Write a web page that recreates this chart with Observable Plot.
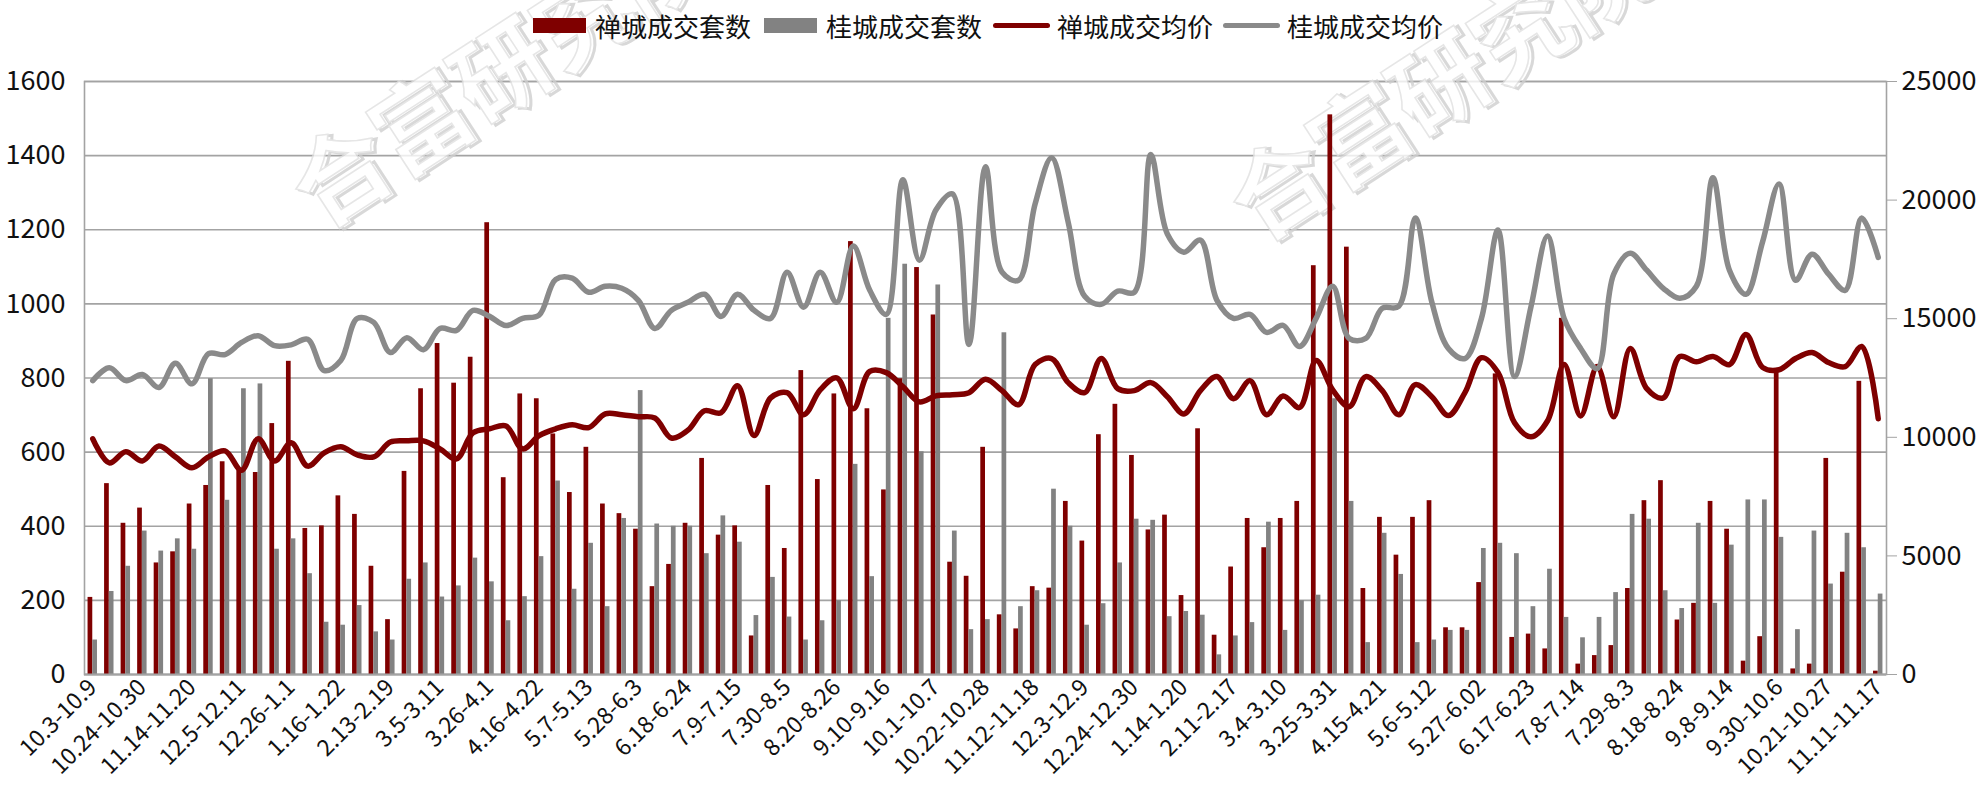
<!DOCTYPE html>
<html><head><meta charset="utf-8">
<script src="https://cdn.jsdelivr.net/npm/d3@7"></script>
<script src="https://cdn.jsdelivr.net/npm/@observablehq/plot@0.6"></script>
<style>
body{margin:0;background:#fff;font-family:"Noto Sans CJK SC","Noto Sans",sans-serif;}
#wrap{position:relative;width:1987px;height:808px;overflow:hidden;background:#fff}
#legend{position:relative;z-index:2;height:50px;width:1987px}
#chart{position:relative;z-index:1}
.sw{position:absolute}
.lt{position:absolute;top:9px;font-size:26px;line-height:34px;color:#111;white-space:nowrap}
</style></head><body>
<div id="wrap"><div id="legend"></div><div id="chart"></div></div>
<script>
const weeks = ["10.3-10.9","10.10-10.16","10.17-10.23","10.24-10.30","10.31-11.6","11.7-11.13","11.14-11.20","11.21-11.27","11.28-12.4","12.5-12.11","12.12-12.18","12.19-12.25","12.26-1.1","1.2-1.8","1.9-1.15","1.16-1.22","1.23-2.5","2.6-2.12","2.13-2.19","2.20-2.26","2.27-3.4","3.5-3.11","3.12-3.18","3.19-3.25","3.26-4.1","4.2-4.8","4.9-4.15","4.16-4.22","4.23-4.29","4.30-5.6","5.7-5.13","5.14-5.20","5.21-5.27","5.28-6.3","6.4-6.10","6.11-6.17","6.18-6.24","6.25-7.1","7.2-7.8","7.9-7.15","7.16-7.22","7.23-7.29","7.30-8.5","8.6-8.12","8.13-8.19","8.20-8.26","8.27-9.2","9.3-9.9","9.10-9.16","9.17-9.23","9.24-9.30","10.1-10.7","10.8-10.14","10.15-10.21","10.22-10.28","10.29-11.4","11.5-11.11","11.12-11.18","11.19-11.25","11.26-12.2","12.3-12.9","12.10-12.16","12.17-12.23","12.24-12.30","12.31-1.6","1.7-1.13","1.14-1.20","1.21-1.27","1.28-2.10","2.11-2.17","2.18-2.24","2.25-3.3","3.4-3.10","3.11-3.17","3.18-3.24","3.25-3.31","4.1-4.7","4.8-4.14","4.15-4.21","4.22-4.28","4.29-5.5","5.6-5.12","5.13-5.19","5.20-5.26","5.27-6.02","6.03-6.09","6.10-6.16","6.17-6.23","6.24-6.30","7.1-7.7","7.8-7.14","7.15-7.21","7.22-7.28","7.29-8.3","8.4-8.10","8.11-8.17","8.18-8.24","8.25-8.31","9.1-9.7","9.8-9.14","9.15-9.21","9.22-9.29","9.30-10.6","10.7-10.13","10.14-10.20","10.21-10.27","10.28-11.3","11.4-11.10","11.11-11.17"];
const tickWeeks = weeks.filter((d, i) => i % 3 === 0);

// 禅城成交套数
const chanchengSets = [208,515,408,449,301,331,460,510,574,555,545,677,845,394,401,482,432,292,148,548,771,893,786,856,1219,531,757,744,649,491,613,460,434,392,237,297,408,583,376,401,104,510,340,820,526,757,1168,717,498,798,1098,970,303,265,613,161,123,237,233,467,360,647,729,591,390,430,213,663,106,290,421,342,421,467,1103,1510,1153,232,424,322,424,469,126,126,248,811,100,109,69,961,28,51,78,232,469,523,147,192,467,392,36,102,820,15,28,583,276,791,9];
// 桂城成交套数
const guichengSets = [93,224,292,387,333,366,338,798,470,771,784,338,366,272,141,133,186,115,93,257,301,209,239,314,250,145,210,318,522,230,354,183,421,766,406,400,400,326,428,357,159,262,155,93,145,199,567,264,961,1107,601,1051,387,121,148,922,183,226,500,400,133,191,301,419,416,156,170,160,53,104,140,411,119,199,214,744,467,86,381,270,86,93,119,119,340,354,326,183,284,154,99,154,221,432,419,226,178,408,192,349,471,471,370,121,387,244,381,342,217];
// 禅城成交均价
const chanchengPrice = [9936,8920,9394,9005,9631,9174,8717,9174,9428,8615,9936,9005,9766,8785,9343,9597,9259,9174,9800,9851,9851,9512,9089,10189,10359,10477,9512,10071,10359,10528,10410,10985,10951,10866,10815,9969,10300,11120,11036,12170,10071,11662,11882,10951,12000,12508,11205,12779,12728,12136,11493,11747,11797,11882,12450,11967,11374,13067,13321,12305,11882,13321,12051,11967,12305,11713,10985,11967,12559,11628,12390,10951,11740,11256,13236,12000,11290,12559,11967,10951,12221,11713,10917,11882,13355,12728,10613,10020,10697,13067,10900,12982,10866,13744,12051,11662,13405,13185,13405,13067,14336,12948,12847,13321,13575,13152,12982,13829,10782];
// 桂城成交均价
const guichengPrice = [12390,12931,12390,12644,12102,13118,12254,13524,13490,13998,14285,13862,13896,14133,12813,13236,15013,14844,13575,14201,13693,14590,14506,15352,15098,14709,15013,15149,16655,16706,16114,16367,16283,15775,14590,15352,15690,16029,15098,16029,15352,15013,16960,15487,16960,15690,18060,16198,15183,20853,17468,19583,20260,13913,21411,16960,16621,19837,21784,19076,15944,15606,16164,16114,21919,18568,17806,18314,15775,15013,15183,14421,14717,13829,15013,16367,14167,14167,15437,15521,19245,15690,13744,13321,15013,18737,12559,15521,18483,15013,13744,12898,16875,17755,17044,16283,15860,16367,20937,17044,16029,18229,20684,16621,17721,16875,16198,19245,17586];

const seriesNames = ["禅城成交套数","桂城成交套数","禅城成交均价","桂城成交均价"];
const leftTicks = [0,200,400,600,800,1000,1200,1400,1600];
const rightTicks = [0,5000,10000,15000,20000,25000];
const watermarkText = "合富研究院";

const RED = "#7f0000", GREY = "#828282", GREYLINE = "#8a8a8a", AXIS = "#a3a3a3";
const leftMax = leftTicks[leftTicks.length - 1], rightMax = rightTicks[rightTicks.length - 1];
const k = leftMax / rightMax;

const rows = weeks.map((w, i) => ({week: w, cc: chanchengSets[i], gc: guichengSets[i], ccp: chanchengPrice[i], gcp: guichengPrice[i]}));

const W = 1987, H = 758, mL = 84, mR = 101, mT = 31, mB = 134;
const bw = (W - mL - mR) / weeks.length;
const barW = bw * 0.285;
const half = bw / 2;

const chart = Plot.plot({
  width: W, height: H,
  marginLeft: mL, marginRight: mR, marginTop: mT, marginBottom: mB,
  style: {fontFamily: '"Noto Sans CJK SC","Noto Sans",sans-serif', background: "transparent", color: "#111", overflow: "visible"},
  x: {type: "band", domain: weeks, padding: 0, axis: null},
  y: {domain: [0, leftMax], axis: null},
  marks: [
    Plot.gridY(leftTicks, {stroke: AXIS, strokeOpacity: 1, strokeWidth: 1.6}),
    Plot.frame({stroke: AXIS, strokeWidth: 1.6}),
    Plot.barY(rows, {x: "week", y: "cc", fill: RED, insetLeft: half - barW, insetRight: half}),
    Plot.barY(rows, {x: "week", y: "gc", fill: GREY, insetLeft: half, insetRight: half - barW}),
    Plot.line(rows, {x: "week", y: d => d.ccp * k, stroke: RED, strokeWidth: 5.5, curve: "catmull-rom"}),
    Plot.line(rows, {x: "week", y: d => d.gcp * k, stroke: GREYLINE, strokeWidth: 5.5, curve: "catmull-rom"}),
    Plot.ruleY([0], {stroke: AXIS, strokeWidth: 2}),
    Plot.axisX({ticks: tickWeeks, tickRotate: -45, tickSize: 0, tickPadding: 9, fontSize: 23, label: null, fill: "#111"}),
    Plot.axisY({anchor: "left", ticks: leftTicks, tickFormat: d => String(d), tickSize: 0, tickPadding: 19, fontSize: 27, label: null, fill: "#111"}),
    Plot.axisY({anchor: "right", ticks: rightTicks.map(v => v * k), tickFormat: v => String(Math.round(v / k)), tickSize: 10, tickPadding: 5, stroke: AXIS, fontSize: 27, label: null, fill: "#111"})
  ]
});
document.getElementById("chart").appendChild(chart);

// watermark, drawn under the data marks
const firstBar = chart.querySelector('g[aria-label="bar"]');
const svgNS = "http://www.w3.org/2000/svg";
[[320, 181], [1258, 194]].forEach(([x, y]) => {
  const g = document.createElementNS(svgNS, "g");
  chart.insertBefore(g, firstBar);
  const sel = d3.select(g).attr("transform", `translate(${x},${y}) rotate(-33)`).attr("opacity", 0.8)
    .attr("text-anchor", "start");
  sel.append("text").attr("x", 3).attr("y", 3).text(watermarkText).attr("text-anchor", "start")
    .attr("font-size", 96).attr("font-family", '"Noto Sans CJK SC",sans-serif').attr("font-weight", 700)
    .attr("fill", "none").attr("stroke", "#cfcfcf").attr("stroke-width", 3);
  sel.append("text").attr("x", 0).attr("y", 0).text(watermarkText).attr("text-anchor", "start")
    .attr("font-size", 96).attr("font-family", '"Noto Sans CJK SC",sans-serif').attr("font-weight", 700)
    .attr("fill", "#fff").attr("stroke", "#e0e0e0").attr("stroke-width", 1.5);
});

// legend
const legend = document.getElementById("legend");
const items = [
  {type: "rect", color: RED, sx: 533, tx: 595},
  {type: "rect", color: GREY, sx: 764, tx: 826},
  {type: "line", color: RED, sx: 993, tx: 1057},
  {type: "line", color: GREYLINE, sx: 1223, tx: 1287}
];
items.forEach((it, i) => {
  const s = document.createElement("div");
  s.className = "sw";
  s.style.left = it.sx + "px";
  s.style.background = it.color;
  if (it.type === "rect") { s.style.top = "18px"; s.style.width = "53px"; s.style.height = "15px"; }
  else { s.style.top = "23px"; s.style.width = "57px"; s.style.height = "5px"; s.style.borderRadius = "3px"; }
  legend.appendChild(s);
  const t = document.createElement("div");
  t.className = "lt";
  t.style.left = it.tx + "px";
  t.textContent = seriesNames[i];
  legend.appendChild(t);
});
</script>
</body></html>
